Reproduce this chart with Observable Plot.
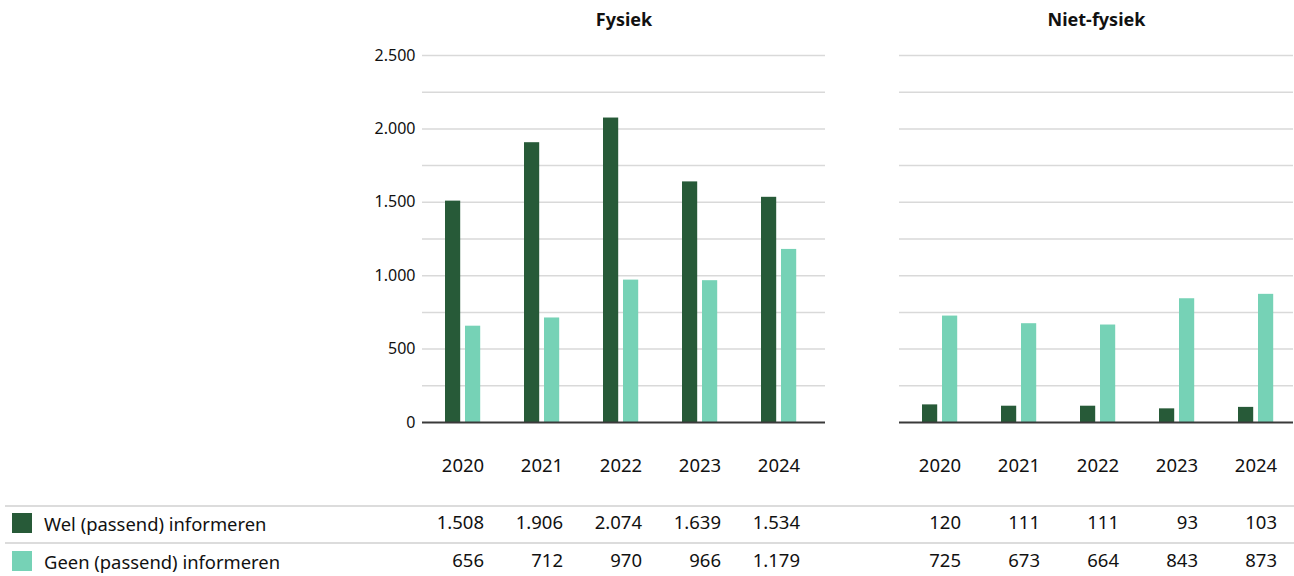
<!DOCTYPE html>
<html>
<head>
<meta charset="utf-8">
<script src="https://cdn.jsdelivr.net/npm/d3@7"></script>
<script src="https://cdn.jsdelivr.net/npm/@observablehq/plot@0.6"></script>
<style>
  html, body { margin: 0; padding: 0; background: #fff; }
  #root { position: relative; width: 1294px; height: 576px; font-family: "Noto Sans", sans-serif; color: #111; overflow: hidden; }
  .sep { position: absolute; left: 5px; width: 1289px; height: 1.5px; background: #dcdcdc; z-index: 2; }
  .leg { position: absolute; left: 12px; display: flex; align-items: center; font-size: 18.4px; z-index: 3; height: 24px; }
  .leg span.sw { display: inline-block; width: 20px; height: 20px; margin-right: 12px; }
  .panel { position: absolute; top: 0; }
</style>
</head>
<body>
<div id="root"></div>
<script>
const years = ["2020", "2021", "2022", "2023", "2024"];
const series = ["Wel (passend) informeren", "Geen (passend) informeren"];
const colors = ["#275a38", "#76d2b6"];
const panelTitles = ["Fysiek", "Niet-fysiek"];
const fysiekWel = [1508, 1906, 2074, 1639, 1534];
const fysiekGeen = [656, 712, 970, 966, 1179];
const nietFysiekWel = [120, 111, 111, 93, 103];
const nietFysiekGeen = [725, 673, 664, 843, 873];
const yTicks = [0, 500, 1000, 1500, 2000, 2500];
const yGrid = [250, 500, 750, 1000, 1250, 1500, 1750, 2000, 2250, 2500];

const nl = d3.formatLocale({decimal: ",", thousands: ".", grouping: [3], currency: ["€", ""]});
const fmt = nl.format(",d");

function rows(wel, geen) {
  return years.map((y, i) => ({year: y, wel: wel[i], geen: geen[i]}));
}

function makePanel({title, data, width, marginLeft, marginRight, xRange, showY}) {
  const marks = [
    Plot.ruleY(yGrid, {stroke: "#d9d9d9", strokeWidth: 1.5}),
    Plot.barY(data, {x: "year", y: "wel", fill: colors[0], insetLeft: 22, insetRight: 41.8}),
    Plot.barY(data, {x: "year", y: "geen", fill: colors[1], insetLeft: 42, insetRight: 21.8}),
    Plot.ruleY([0], {stroke: "#3a3a3a", strokeWidth: 2}),
    Plot.axisX({tickSize: 0, tickPadding: 36, fontSize: 18.5, label: null}),
    Plot.text([title], {frameAnchor: "top", lineAnchor: "middle", dy: -35, fontWeight: "bold", fontSize: 18, fill: "#111"}),
    Plot.text(data, {x: "year", text: d => fmt(d.wel), frameAnchor: "bottom", lineAnchor: "middle", dy: 101, dx: 21, textAnchor: "end", fontSize: 18.5, fill: "#111"}),
    Plot.text(data, {x: "year", text: d => fmt(d.geen), frameAnchor: "bottom", lineAnchor: "middle", dy: 139, dx: 21, textAnchor: "end", fontSize: 18.5, fill: "#111"})
  ];
  if (showY) marks.push(Plot.axisY(yTicks, {tickSize: 0, tickPadding: 7, tickFormat: fmt, fontSize: 16, label: null}));
  return Plot.plot({
    width, height: 576,
    marginTop: 55, marginBottom: 154, marginLeft, marginRight,
    x: {domain: years, range: xRange, padding: 0, axis: null},
    y: {domain: [0, 2500], axis: null},
    style: {fontFamily: "Noto Sans, sans-serif", fontSize: "16px", color: "#111", background: "transparent", overflow: "visible"},
    marks
  });
}

const root = document.getElementById("root");

const p1 = makePanel({title: panelTitles[0], data: rows(fysiekWel, fysiekGeen), width: 830, marginLeft: 422, marginRight: 5, xRange: [421, 820.75], showY: true});
p1.classList.add("panel"); p1.style.left = "0px";
root.appendChild(p1);

const p2 = makePanel({title: panelTitles[1], data: rows(nietFysiekWel, nietFysiekGeen), width: 464, marginLeft: 69, marginRight: 1, xRange: [68, 467.75], showY: false});
p2.classList.add("panel"); p2.style.left = "830px";
root.appendChild(p2);

[505, 542].forEach(t => {
  const d = document.createElement("div");
  d.className = "sep"; d.style.top = t + "px";
  root.appendChild(d);
});

[511, 549].forEach((t, i) => {
  const d = document.createElement("div");
  d.className = "leg"; d.style.top = t + "px";
  const sw = document.createElement("span");
  sw.className = "sw"; sw.style.background = colors[i];
  d.appendChild(sw);
  d.appendChild(document.createTextNode(series[i]));
  root.appendChild(d);
});
</script>
</body>
</html>
